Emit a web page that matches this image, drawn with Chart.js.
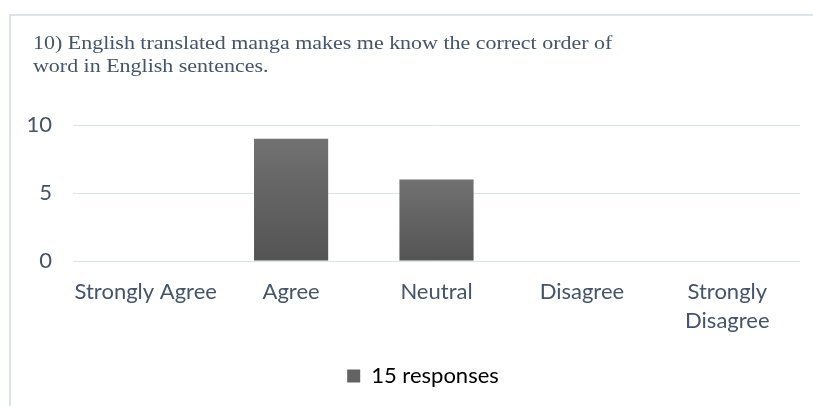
<!DOCTYPE html>
<html><head><meta charset="utf-8">
<script src="https://cdn.jsdelivr.net/npm/chart.js@4"></script>
<style>
html,body{margin:0;padding:0;overflow:hidden;background:#fff;width:813px;height:406px;}
#frame{position:absolute;left:9px;top:14px;width:830px;height:400px;border-top:2px solid #dde2ea;border-left:2px solid #dde2ea;}
#wrap{position:absolute;left:11px;top:16px;width:814px;height:390px;}
</style></head><body>
<div id="frame"></div>
<div id="wrap"><canvas id="c"></canvas></div>
<script>
const titleLines = ['10) English translated manga makes me know the correct order of', 'word in English sentences.'];
const categories = ['Strongly Agree', 'Agree', 'Neutral', 'Disagree', ['Strongly', 'Disagree']];
const responses = [0, 9, 6, 0, 0];
const seriesName = '15 responses';
const yMin = 0, yMax = 10, yStep = 5;

const textColor = '#44546a';
const tickFont = {family: 'Lato', size: 22, lineHeight: 1.32};

function barGradient(ctx) {
  const chart = ctx.chart;
  const y = chart.scales && chart.scales.y;
  if (!y || ctx.raw === undefined) return '#626262';
  const top = y.getPixelForValue(ctx.raw);
  const bottom = y.getPixelForValue(0);
  if (!isFinite(top) || !isFinite(bottom) || top === bottom) return '#626262';
  const g = chart.ctx.createLinearGradient(0, top, 0, bottom);
  g.addColorStop(0, '#717171');
  g.addColorStop(1, '#545454');
  return g;
}

// The title face in the reference is a wide Times-like serif, indented a little:
// shift and stretch it horizontally.
const titleStretch = {
  id: 'titleStretch',
  beforeDraw(chart, args, opts) {
    const tb = chart.titleBlock;
    if (!tb || tb._stretched) return;
    const orig = tb.draw;
    tb.draw = function (area) {
      const c = this.ctx;
      c.save();
      c.translate(this.left + opts.indent, 0);
      c.scale(opts.stretch, 1);
      c.translate(-this.left, 0);
      orig.call(this, area);
      c.restore();
    };
    tb._stretched = true;
  }
};

new Chart(document.getElementById('c'), {
  type: 'bar',
  plugins: [titleStretch],
  data: {
    labels: categories,
    datasets: [{
      label: seriesName,
      data: responses,
      backgroundColor: barGradient,
      borderWidth: 0,
      barPercentage: 0.51,
      categoryPercentage: 1.0
    }]
  },
  options: {
    responsive: true,
    maintainAspectRatio: false,
    devicePixelRatio: 1,
    animation: false,
    layout: {padding: {left: 10, right: 0, top: 0, bottom: 9}},
    plugins: {
      titleStretch: {indent: 12, stretch: 1.22},
      title: {
        display: true,
        text: titleLines,
        align: 'start',
        color: textColor,
        font: {family: 'Liberation Serif', size: 18, weight: 'normal', lineHeight: 1.3},
        padding: {top: 16.5, bottom: 46}
      },
      legend: {
        display: true,
        position: 'bottom',
        labels: {
          color: textColor,
          font: {family: 'Lato', size: 22},
          boxWidth: 13,
          boxHeight: 13,
          padding: 10,
          generateLabels: (chart) => [{
            text: seriesName,
            fillStyle: '#636363',
            strokeStyle: '#636363',
            lineWidth: 0,
            hidden: false,
            datasetIndex: 0
          }]
        }
      },
      tooltip: {enabled: false}
    },
    scales: {
      x: {
        grid: {display: false, drawTicks: false},
        border: {display: false},
        ticks: {color: textColor, font: tickFont, padding: 16.5, maxRotation: 0, autoSkip: false},
        afterFit: (axis) => { axis.height = 94; }
      },
      y: {
        min: yMin, max: yMax,
        grid: {color: '#dee2e9', lineWidth: 1, drawTicks: false},
        border: {display: false},
        ticks: {stepSize: yStep, color: textColor, font: tickFont, padding: 21},
        afterFit: (axis) => { axis.width = 52; }
      },
      yPad: {
        type: 'linear',
        position: 'right',
        display: true,
        grid: {display: false, drawTicks: false},
        border: {display: false},
        ticks: {display: false},
        afterFit: (axis) => { axis.width = 25; }
      }
    }
  }
});
</script>
</body></html>
